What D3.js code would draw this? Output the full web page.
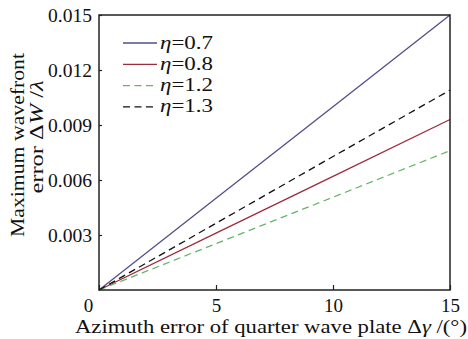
<!DOCTYPE html>
<html>
<head>
<meta charset="utf-8">
<script src="https://cdn.jsdelivr.net/npm/d3@7"></script>
<style>
    body { margin: 0; background: #fff; font-family: "Liberation Serif", serif; }
    #warm { position: absolute; left: 0; top: 0; font-size: 19px; visibility: hidden; }
    #chart { position: absolute; left: 0; top: 0; }
</style>
</head>
<body>
<div id="warm">0.015 Azimuth error &#951;=0.7 &#916;W &#955;</div>
<svg id="chart" width="468" height="339" font-family="Liberation Serif"></svg>
<script>
(function (d3) {
    'use strict';

    var FONT = 'Liberation Serif',
        SIZE = 19;

    // force the serif face to be laid out once before the svg text is made
    document.getElementById('warm').getBoundingClientRect();

    // azimuth error of the quarter wave plate, degrees
    var azimuth = [0, 5, 10, 15];

    // maximum wavefront error (in lambda) for each eta
    var eta07 = [0, 0.0050, 0.0100, 0.0150],
        eta08 = [0, 0.0031, 0.0062, 0.0093],
        eta12 = [0, 0.00253, 0.00506, 0.0076],
        eta13 = [0, 0.00364, 0.00728, 0.0109];

    var seriesNames = ['0.7', '0.8', '1.2', '1.3'];
    var xTicks = [0, 5, 10, 15];
    var yTicks = [0.003, 0.006, 0.009, 0.012, 0.015];

    var series = [
        { name: seriesNames[0], values: eta07, color: '#4f4f8a', dash: null },
        { name: seriesNames[1], values: eta08, color: '#9c2c3c', dash: null },
        { name: seriesNames[2], values: eta12, color: '#66b566', dash: '7,4.5' },
        { name: seriesNames[3], values: eta13, color: '#111111', dash: '7,4.5' }
    ];

    var margin = { top: 15, left: 99, right: 18, bottom: 49 },
        width  = 468 - margin.left - margin.right,
        height = 339 - margin.top - margin.bottom;

    var svg = d3.select('#chart'),
        g   = svg.append('g').attr('transform', 'translate(' + margin.left + ',' + margin.top + ')');

    var x = d3.scaleLinear().domain([0, 15]).range([0, width]),
        y = d3.scaleLinear().domain([0, 0.015]).range([height, 0]);

    // lines
    var line = d3.line()
        .x(function (d, i) { return x(azimuth[i]); })
        .y(function (d) { return y(d); });

    g.selectAll('.series').data(series).enter().append('path')
        .attr('class', 'series')
        .attr('fill', 'none')
        .attr('stroke', function (d) { return d.color; })
        .attr('stroke-width', 1.3)
        .attr('stroke-dasharray', function (d) { return d.dash; })
        .attr('d', function (d) { return line(d.values); });

    // frame
    g.append('rect')
        .attr('width', width).attr('height', height)
        .attr('fill', 'none').attr('stroke', '#222').attr('stroke-width', 1.5);

    // x axis
    var xAxis = g.append('g')
        .attr('transform', 'translate(0,' + height + ')')
        .call(d3.axisBottom(x).tickValues(xTicks).tickSize(-5).tickPadding(9).tickFormat(d3.format('d')))
        .attr('font-family', FONT).attr('font-size', SIZE);
    xAxis.select('.domain').remove();
    xAxis.selectAll('line').attr('stroke', '#222').attr('stroke-width', 1.2);
    xAxis.selectAll('text')
        .attr('fill', '#111')
        .attr('dx', function (d) { return d === 0 ? -11 : 0; });

    // y axis
    var yAxis = g.append('g')
        .call(d3.axisLeft(y).tickValues(yTicks).tickSize(-3).tickPadding(7).tickFormat(d3.format('.3f')))
        .attr('font-family', FONT).attr('font-size', SIZE);
    yAxis.select('.domain').remove();
    yAxis.selectAll('line').attr('stroke', '#222').attr('stroke-width', 1.2);
    yAxis.selectAll('text').attr('fill', '#111')
        .attr('textLength', 44).attr('lengthAdjust', 'spacingAndGlyphs');

    // axis titles
    var titles = svg.append('g').attr('font-family', FONT).attr('font-size', SIZE).attr('fill', '#111');

    var xTitle = titles.append('text')
        .attr('x', 75).attr('y', 333)
        .attr('textLength', 392).attr('lengthAdjust', 'spacingAndGlyphs');
    xTitle.append('tspan').text('Azimuth error of quarter wave plate \u0394');
    xTitle.append('tspan').attr('font-style', 'italic').text('\u03b3');
    xTitle.append('tspan').text(' /(\u00b0)');

    titles.append('text')
        .attr('transform', 'translate(24,145) rotate(-90)')
        .attr('text-anchor', 'middle')
        .attr('textLength', 184).attr('lengthAdjust', 'spacingAndGlyphs')
        .text('Maximum wavefront');

    var yTitle2 = titles.append('text')
        .attr('transform', 'translate(43,137) rotate(-90)')
        .attr('text-anchor', 'middle')
        .attr('textLength', 113).attr('lengthAdjust', 'spacingAndGlyphs');
    yTitle2.append('tspan').text('error \u0394');
    yTitle2.append('tspan').attr('font-style', 'italic').text('W');
    yTitle2.append('tspan').text(' /');
    yTitle2.append('tspan').attr('font-style', 'italic').text('\u03bb');

    // legend
    var legend = svg.append('g').attr('transform', 'translate(123,43)')
        .attr('font-family', FONT).attr('font-size', SIZE).attr('fill', '#111');
    var rows = legend.selectAll('g').data(series).enter().append('g')
        .attr('transform', function (d, i) { return 'translate(0,' + (i * 21.3) + ')'; });
    rows.append('line')
        .attr('x1', 0).attr('x2', 34)
        .attr('stroke', function (d) { return d.color; })
        .attr('stroke-width', 1.3)
        .attr('stroke-dasharray', function (d) { return d.dash; });
    var labels = rows.append('text')
        .attr('x', 37).attr('y', 5.5)
        .attr('textLength', 53).attr('lengthAdjust', 'spacingAndGlyphs');
    labels.append('tspan').attr('font-style', 'italic').text('\u03b7');
    labels.append('tspan').text(function (d) { return '=' + d.name; });
}(window.d3));
</script>
</body>
</html>
